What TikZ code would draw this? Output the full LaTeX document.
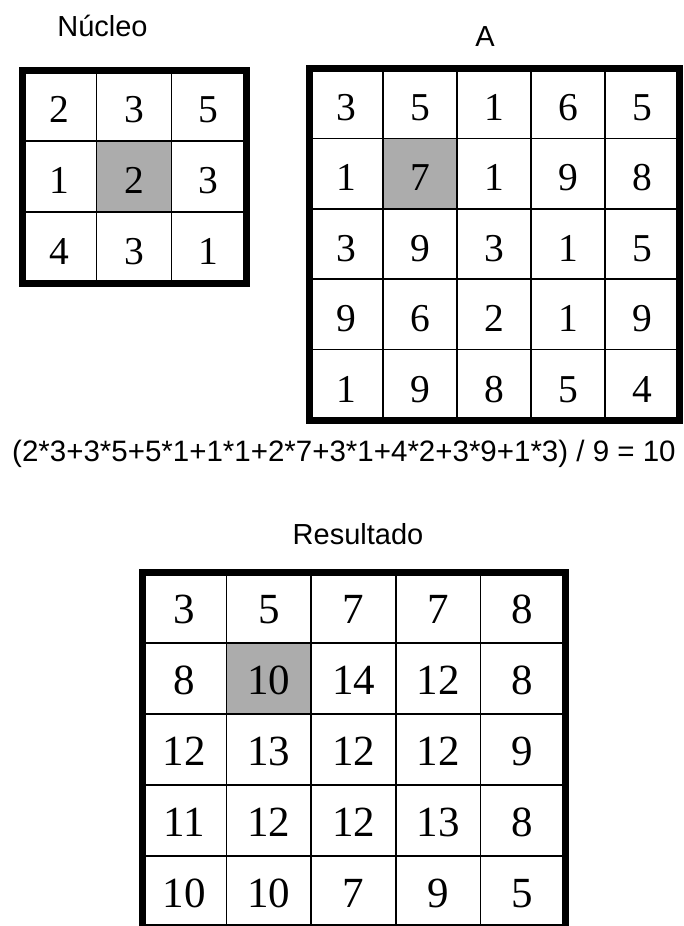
\documentclass[tikz,border=0pt]{standalone}
\usepackage{fontspec}
\setmainfont{Liberation Serif}
\newfontfamily\labelfont{Liberation Sans}
\usetikzlibrary{backgrounds}
\definecolor{cellgrey}{RGB}{172,172,172}
\tikzset{
  cellbase/.style={draw, line width=1.5pt, inner sep=0pt, outer sep=0pt, text depth=0pt},
  ncell/.style={cellbase, minimum width=74.67pt, minimum height=71pt, text height=34.7pt, font=\fontsize{39.5}{44}\selectfont},
  acell/.style={cellbase, minimum width=74pt, minimum height=70.4pt, text height=34.7pt, font=\fontsize{39.5}{44}\selectfont},
  rcell/.style={cellbase, minimum width=84.6pt, minimum height=71pt, text height=32pt, font=\fontsize{43}{48}\selectfont},
  gridframe/.style={line width=7pt},
  lbl/.style={font=\labelfont\fontsize{29}{34}\selectfont, inner sep=0pt, anchor=base},
  formula/.style={font=\labelfont\fontsize{29.5}{34}\selectfont, inner sep=0pt, anchor=base},
}
\begin{document}
\begin{tikzpicture}[x=1pt, y=-1pt]
\useasboundingbox (0,0) rectangle (683,926);

% Labels
\node[lbl] (lblN) at (102.5,36) {Núcleo};
\node[lbl] (lblA) at (485,46) {A};
\node[lbl] (lblR) at (358,544) {Resultado};
\node[formula] (calc) at (344,461.5) {(2*3+3*5+5*1+1*1+2*7+3*1+4*2+3*9+1*3) / 9 = 10};

% Nucleo grid
\foreach \vals [count=\r from 0] in {{2,3,5},{1,2,3},{4,3,1}} {
  \foreach \v [count=\c from 0] in \vals {
    \node[ncell] (N-\r-\c) at ({22+74.67*(\c+0.5)}, {70+71*(\r+0.5)}) {\v};
  }
}
\begin{pgfonlayer}{background}
  \fill[cellgrey] (N-1-1.north west) rectangle (N-1-1.south east);
\end{pgfonlayer}
\draw[gridframe] (N-0-0.north west) rectangle (N-2-2.south east);

% A grid
\foreach \vals [count=\r from 0] in {{3,5,1,6,5},{1,7,1,9,8},{3,9,3,1,5},{9,6,2,1,9},{1,9,8,5,4}} {
  \foreach \v [count=\c from 0] in \vals {
    \node[acell] (A-\r-\c) at ({309+74*(\c+0.5)}, {68+70.4*(\r+0.5)}) {\v};
  }
}
\begin{pgfonlayer}{background}
  \fill[cellgrey] (A-1-1.north west) rectangle (A-1-1.south east);
\end{pgfonlayer}
\draw[gridframe] (A-0-0.north west) rectangle (A-4-4.south east);

% Resultado grid
\foreach \vals [count=\r from 0] in {{3,5,7,7,8},{8,10,14,12,8},{12,13,12,12,9},{11,12,12,13,8},{10,10,7,9,5}} {
  \foreach \v [count=\c from 0] in \vals {
    \node[rcell] (R-\r-\c) at ({142+84.6*(\c+0.5)}, {572+71*(\r+0.5)}) {\v};
  }
}
\begin{pgfonlayer}{background}
  \fill[cellgrey] (R-1-1.north west) rectangle (R-1-1.south east);
\end{pgfonlayer}
\draw[gridframe] (R-0-0.north west) rectangle (R-4-4.south east);
\end{tikzpicture}
\end{document}
